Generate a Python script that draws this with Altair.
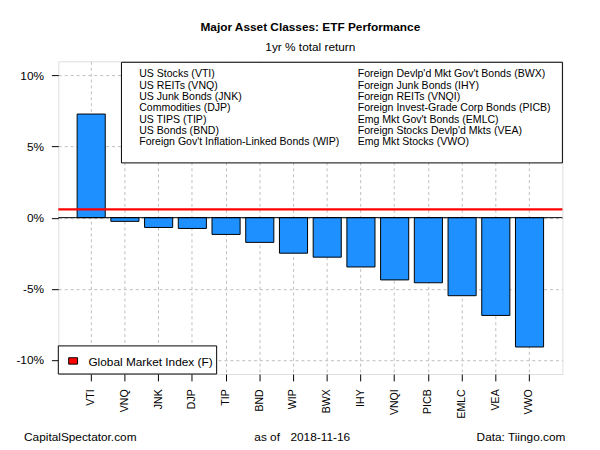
import altair as alt
import pandas as pd

# ---- data ----
tickers = ["VTI", "VNQ", "JNK", "DJP", "TIP", "BND", "WIP", "BWX", "IHY",
           "VNQI", "PICB", "EMLC", "VEA", "VWO"]
returns = [7.29, -0.26, -0.69, -0.76, -1.18, -1.74, -2.50, -2.78, -3.47,
           -4.38, -4.58, -5.49, -6.88, -9.10]
global_index = [0.58]
legend_col1 = ["US Stocks (VTI)", "US REITs (VNQ)", "US Junk Bonds (JNK)",
               "Commodities (DJP)", "US TIPS (TIP)", "US Bonds (BND)",
               "Foreign Gov't Inflation-Linked Bonds (WIP)"]
legend_col2 = ["Foreign Devlp'd Mkt Gov't Bonds (BWX)", "Foreign Junk Bonds (IHY)",
               "Foreign REITs (VNQI)", "Foreign Invest-Grade Corp Bonds (PICB)",
               "Emg Mkt Gov't Bonds (EMLC)", "Foreign Stocks Devlp'd Mkts (VEA)",
               "Emg Mkt Stocks (VWO)"]
y_ticks = [-10, -5, 0, 5, 10]
title_text = "Major Asset Classes: ETF Performance"
subtitle_text = "1yr % total return"
left_note = "CapitalSpectator.com"
asof_label = "as of"
asof_date = "2018-11-16"
right_note = "Data: Tiingo.com"
index_label = "Global Market Index (F)"

FONT = "Liberation Sans"
W, H = 511, 317

df = pd.DataFrame({"ticker": tickers, "value": returns})

xscale = alt.Scale(paddingInner=0.166, paddingOuter=0.558)
yscale = alt.Scale(domain=[-11.0, 11.0], nice=False, zero=False)

bars = alt.Chart(df).mark_bar(
    color="#1E90FF", stroke="black", strokeWidth=1
).encode(
    x=alt.X("ticker:N", sort=tickers, scale=xscale, title=None,
            axis=alt.Axis(labelAngle=270, labelAlign="right", labelBaseline="middle",
                          labelFontSize=10.7, labelPadding=8, tickSize=7,
                          bandPosition=0.5, grid=True, gridDash=[3, 3],
                          gridColor="#BEBEBE", domain=False, tickColor="black",
                          labelColor="black", labelFont=FONT)),
    y=alt.Y("value:Q", scale=yscale, title=None,
            axis=alt.Axis(values=y_ticks, labelExpr="datum.value + '%'",
                          labelFontSize=12, labelPadding=8, tickSize=7,
                          grid=True, gridDash=[3, 3], gridColor="#BEBEBE",
                          domain=False, tickColor="black", labelColor="black",
                          labelFont=FONT)),
)

zero = alt.Chart(pd.DataFrame({"z": [0]})).mark_rule(color="black", strokeWidth=1).encode(
    y=alt.Y("z:Q", scale=yscale)
)
gmi = alt.Chart(pd.DataFrame({"g": global_index})).mark_rule(color="#FF0000", strokeWidth=2.2).encode(
    y=alt.Y("g:Q", scale=yscale)
)

one = pd.DataFrame({"a": [0]})

def box(x1, x2, y1, y2, fill="white"):
    return alt.Chart(one).mark_rect(fill=fill, stroke="black", strokeWidth=1).encode(
        x=alt.value(x1), x2=alt.value(x2), y=alt.value(y1), y2=alt.value(y2))

def txt(s, x, y, size=12, align="left", baseline="alphabetic", weight="normal"):
    return alt.Chart(pd.DataFrame({"t": [s]})).mark_text(
        font=FONT, fontSize=size, align=align, baseline=baseline,
        fontWeight=weight, color="black"
    ).encode(x=alt.value(x), y=alt.value(y), text="t:N")

layers = [bars, zero, gmi]

# top legend
layers.append(box(64, W, 1, 103))
for i, s in enumerate(legend_col1):
    layers.append(txt(s, 82, 13.3 + 11.5 * i, size=10.7, baseline="middle"))
for i, s in enumerate(legend_col2):
    layers.append(txt(s, 303.5, 13.3 + 11.5 * i, size=10.7, baseline="middle"))

# bottom legend
layers.append(box(0, 160.5, 288.5, H))
layers.append(box(10.5, 19.5, 300.5, 307, fill="#FF0000"))
layers.append(txt(index_label, 30.5, 304.5, size=12, baseline="middle"))

# titles and notes
layers.append(txt(title_text, W / 2, -30.7, size=12, align="center", weight="bold"))
layers.append(txt(subtitle_text, W / 2, -10.7, size=12, align="center"))
layers.append(txt(left_note, -34.7, 385.3, size=12))
layers.append(txt(asof_label, 198.7, 385.3, size=12))
layers.append(txt(asof_date, 235.3, 385.3, size=12))
layers.append(txt(right_note, 514, 385.3, size=12, align="right"))

chart = alt.layer(*layers).properties(
    width=W, height=H,
    autosize=alt.AutoSizeParams(type="none"),
    padding={"left": 51, "top": 51, "right": 30, "bottom": 74},
).configure_view(
    stroke="black", strokeWidth=1
).configure(background="white")

chart.save("out.html", embed_options={"renderer": "svg", "actions": False})
